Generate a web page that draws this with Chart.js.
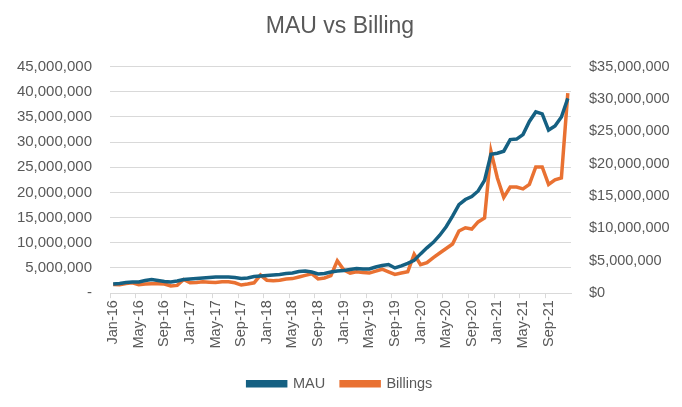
<!DOCTYPE html>
<html>
<head>
<meta charset="utf-8">
<script src="https://cdn.jsdelivr.net/npm/chart.js@4.4.1/dist/chart.umd.min.js"></script>
<style>
  html, body { margin: 0; padding: 0; background: #fff; }
  #wrap { width: 682px; height: 407px; }
</style>
</head>
<body>
<div id="wrap"><canvas id="mauChart"></canvas></div>
<script>
// months Jan-16 .. Dec-21
const years = ["16", "17", "18", "19", "20", "21"];
const monthNames = ["Jan", "Feb", "Mar", "Apr", "May", "Jun", "Jul", "Aug", "Sep", "Oct", "Nov", "Dec"];
const months = [];
years.forEach(y => monthNames.forEach(m => months.push(m + "-" + y)));

// monthly active users
const mau = [
    1800000, 1900000, 2100000, 2200000, 2200000, 2500000, 2700000, 2500000, 2300000, 2200000, 2400000, 2700000,
    2800000, 2900000, 3000000, 3100000, 3200000, 3200000, 3200000, 3100000, 2900000, 3000000, 3300000, 3400000,
    3500000, 3600000, 3700000, 3900000, 4000000, 4300000, 4400000, 4200000, 3800000, 3900000, 4200000, 4400000,
    4500000, 4700000, 4900000, 4800000, 4800000, 5200000, 5500000, 5700000, 5000000, 5400000, 5900000, 6500000,
    7800000, 9000000, 10100000, 11500000, 13200000, 15300000, 17600000, 18600000, 19200000, 20300000, 22400000, 27600000,
    27800000, 28200000, 30500000, 30600000, 31500000, 34100000, 36000000, 35600000, 32400000, 33200000, 35000000, 38700000
];

// billings ($)
const billings = [
    1350000, 1300000, 1500000, 1600000, 1300000, 1400000, 1450000, 1450000, 1400000, 1100000, 1200000, 2100000,
    1600000, 1650000, 1750000, 1700000, 1650000, 1750000, 1750000, 1600000, 1250000, 1400000, 1600000, 2800000,
    2000000, 1900000, 2000000, 2200000, 2250000, 2500000, 2750000, 3000000, 2200000, 2350000, 2700000, 5000000,
    3600000, 3100000, 3300000, 3200000, 3100000, 3400000, 3700000, 3300000, 2900000, 3100000, 3300000, 6000000,
    4400000, 4700000, 5500000, 6200000, 6900000, 7600000, 9600000, 10100000, 9900000, 11000000, 11600000, 21900000,
    17800000, 14800000, 16400000, 16400000, 16100000, 16800000, 19500000, 19500000, 16800000, 17500000, 17800000, 30900000
];

const blue = "#156082";
const orange = "#E97132";
const textGrey = "#595959";
const gridGrey = "#d9d9d9";
const fontFamily = "'Liberation Sans', Arial, sans-serif";

Chart.defaults.font.family = fontFamily;
Chart.defaults.color = textGrey;

const ctx = document.getElementById("mauChart").getContext("2d");
new Chart(ctx, {
    type: "line",
    data: {
        labels: months,
        datasets: [
            {
                label: "MAU",
                data: mau,
                yAxisID: "y",
                borderColor: blue,
                backgroundColor: blue,
                borderWidth: 3.5,
                pointRadius: 0,
                tension: 0
            },
            {
                label: "Billings",
                data: billings,
                yAxisID: "y1",
                borderColor: orange,
                backgroundColor: orange,
                borderWidth: 3.5,
                pointRadius: 0,
                tension: 0
            }
        ]
    },
    options: {
        responsive: true,
        maintainAspectRatio: false,
        animation: false,
        layout: { padding: { left: 8, right: 10, top: 4, bottom: 6 } },
        plugins: {
            title: {
                display: true,
                text: "MAU vs Billing",
                color: textGrey,
                font: { size: 23, weight: "normal" },
                padding: { top: 9, bottom: 26 }
            },
            legend: {
                position: "bottom",
                labels: {
                    boxWidth: 38,
                    boxHeight: 4,
                    padding: 16,
                    color: textGrey,
                    font: { size: 14.5 }
                }
            },
            tooltip: { enabled: false }
        },
        scales: {
            x: {
                offset: true,
                afterFit: (s) => { s.height += 10; },
                grid: {
                    offset: true,
                    drawOnChartArea: false,
                    drawTicks: true,
                    tickLength: 5,
                    color: (c) => (c.index % 4 === 0 ? gridGrey : "rgba(0,0,0,0)")
                },
                border: { display: true, color: gridGrey },
                ticks: {
                    autoSkip: false,
                    minRotation: 90,
                    maxRotation: 90,
                    padding: 2,
                    font: { size: 14.5 },
                    callback: function (value, index) {
                        return index % 4 === 0 ? this.getLabelForValue(value) : "";
                    }
                }
            },
            y: {
                position: "left",
                min: 0,
                max: 45000000,
                afterFit: (s) => { s.width = 102; },
                grid: { color: gridGrey, drawTicks: false },
                border: { display: false },
                ticks: {
                    stepSize: 5000000,
                    padding: 18,
                    font: { size: 15 },
                    callback: (v) => (v === 0 ? "-" : v.toLocaleString("en-US"))
                }
            },
            y1: {
                position: "right",
                min: 0,
                max: 35000000,
                afterFit: (s) => { s.width = 101; },
                grid: { drawOnChartArea: false, drawTicks: false },
                border: { display: false },
                ticks: {
                    stepSize: 5000000,
                    padding: 18,
                    font: { size: 14.5 },
                    callback: (v) => "$" + v.toLocaleString("en-US")
                }
            }
        }
    }
});
</script>
</body>
</html>
